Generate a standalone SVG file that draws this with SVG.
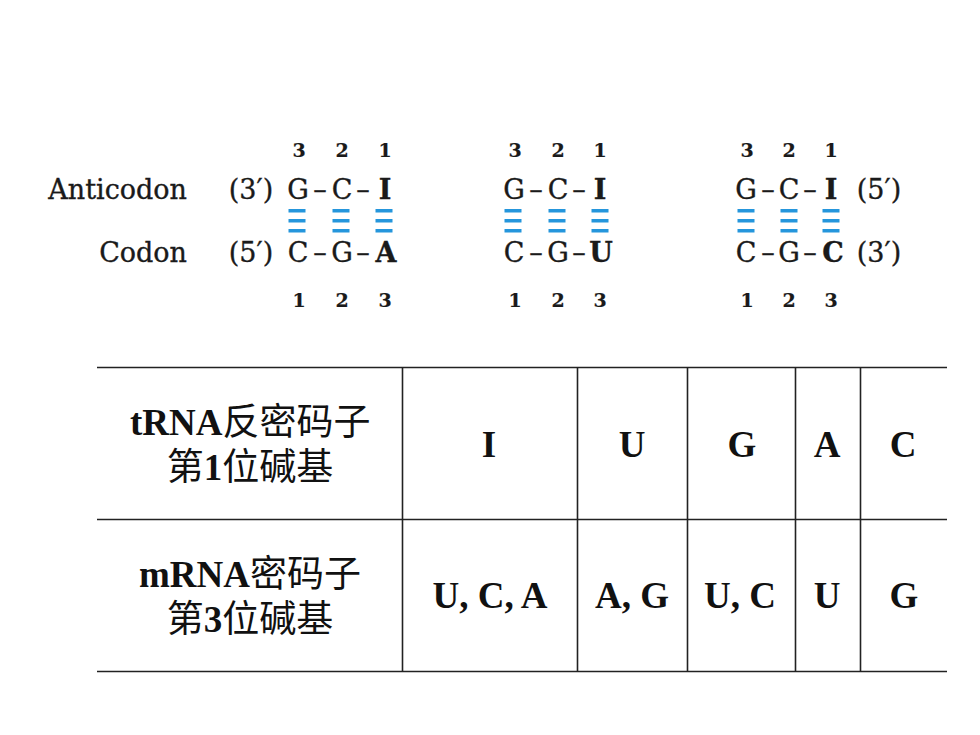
<svg xmlns="http://www.w3.org/2000/svg" width="980" height="735" viewBox="0 0 980 735">
<style>
.sch{font-family:"DejaVu Serif","Liberation Serif",serif;fill:#1a1a1a;stroke:#1a1a1a;stroke-width:0.35;text-anchor:middle}
.lbl{font-size:27px}
.base{font-size:27px}
.b{font-weight:bold}
.num{font-size:19px;font-weight:bold;stroke-width:0.2}
.bar{fill:#2596DC}
.grid{stroke:#222;stroke-width:1.6;fill:none}
.cell{font-family:"Liberation Serif","Times New Roman",serif;font-weight:bold;font-size:37px;fill:#111;text-anchor:middle}
.lat{font-family:"Liberation Serif","Times New Roman",serif;font-weight:bold;font-size:37px;fill:#111}
.cjk{font-family:"Noto Sans CJK SC",sans-serif;font-weight:normal;font-size:37px;fill:#111}
</style>
<defs>
<g id="bars">
<rect class="bar" x="-8.5" y="0" width="17" height="3.5"/>
<rect class="bar" x="-8.5" y="10" width="17" height="3.5"/>
<rect class="bar" x="-8.5" y="20" width="17" height="3.5"/>
</g>
</defs>

<g id="labels">
<text class="sch lbl" x="187" y="199" style="text-anchor:end">Anticodon</text>
<text class="sch lbl" x="187" y="262" style="text-anchor:end">Codon</text>
</g>

<g id="pair1">
<text class="sch num"><tspan x="299" y="157">3</tspan><tspan x="342" y="157">2</tspan><tspan x="385" y="157">1</tspan></text>
<text class="sch base" y="199"><tspan x="251">(3′)</tspan><tspan x="298">G</tspan><tspan x="320">–</tspan><tspan x="342">C</tspan><tspan x="363">–</tspan><tspan class="b" x="385">I</tspan></text>
<use href="#bars" x="297" y="209"/><use href="#bars" x="341" y="209"/><use href="#bars" x="384" y="209"/>
<text class="sch base" y="262"><tspan x="251">(5′)</tspan><tspan x="298">C</tspan><tspan x="320">–</tspan><tspan x="342">G</tspan><tspan x="363">–</tspan><tspan class="b" x="386">A</tspan></text>
<text class="sch num"><tspan x="299" y="307">1</tspan><tspan x="342" y="307">2</tspan><tspan x="385" y="307">3</tspan></text>
</g>

<g id="pair2">
<text class="sch num"><tspan x="515" y="157">3</tspan><tspan x="558" y="157">2</tspan><tspan x="600" y="157">1</tspan></text>
<text class="sch base" y="199"><tspan x="514">G</tspan><tspan x="536">–</tspan><tspan x="558">C</tspan><tspan x="579">–</tspan><tspan class="b" x="600">I</tspan></text>
<use href="#bars" x="513" y="209"/><use href="#bars" x="557" y="209"/><use href="#bars" x="600" y="209"/>
<text class="sch base" y="262"><tspan x="514">C</tspan><tspan x="536">–</tspan><tspan x="558">G</tspan><tspan x="579">–</tspan><tspan class="b" x="601">U</tspan></text>
<text class="sch num"><tspan x="515" y="307">1</tspan><tspan x="558" y="307">2</tspan><tspan x="600" y="307">3</tspan></text>
</g>

<g id="pair3">
<text class="sch num"><tspan x="747" y="157">3</tspan><tspan x="789" y="157">2</tspan><tspan x="831" y="157">1</tspan></text>
<text class="sch base" y="199"><tspan x="746">G</tspan><tspan x="768">–</tspan><tspan x="789">C</tspan><tspan x="810">–</tspan><tspan class="b" x="831">I</tspan><tspan x="879">(5′)</tspan></text>
<use href="#bars" x="746" y="209"/><use href="#bars" x="789" y="209"/><use href="#bars" x="831" y="209"/>
<text class="sch base" y="262"><tspan x="746">C</tspan><tspan x="768">–</tspan><tspan x="789">G</tspan><tspan x="810">–</tspan><tspan class="b" x="833">C</tspan><tspan x="879">(3′)</tspan></text>
<text class="sch num"><tspan x="747" y="307">1</tspan><tspan x="789" y="307">2</tspan><tspan x="831" y="307">3</tspan></text>
</g>

<g id="table">
<g class="grid">
<line x1="97" y1="367.5" x2="947" y2="367.5"/>
<line x1="97" y1="519.5" x2="947" y2="519.5"/>
<line x1="97" y1="671.5" x2="947" y2="671.5"/>
<line x1="402.5" y1="367" x2="402.5" y2="672"/>
<line x1="577.5" y1="367" x2="577.5" y2="672"/>
<line x1="687.5" y1="367" x2="687.5" y2="672"/>
<line x1="795.5" y1="367" x2="795.5" y2="672"/>
<line x1="860.5" y1="367" x2="860.5" y2="672"/>
</g>
<text class="lat" x="130" y="435">tRNA</text>
<text class="cjk" x="222.5" y="435">反密码子</text>
<text class="cjk" x="166.8" y="480">第</text>
<text class="lat" x="203.8" y="480">1</text>
<text class="cjk" x="222.3" y="480">位碱基</text>
<text class="lat" x="139" y="587">mRNA</text>
<text class="cjk" x="250" y="587">密码子</text>
<text class="cjk" x="166.8" y="632">第</text>
<text class="lat" x="203.8" y="632">3</text>
<text class="cjk" x="222.3" y="632">位碱基</text>
<text class="cell" x="489" y="457">I</text>
<text class="cell" x="632" y="457">U</text>
<text class="cell" x="742" y="457">G</text>
<text class="cell" x="827" y="457">A</text>
<text class="cell" x="903" y="457">C</text>
<text class="cell" x="490" y="608">U, C, A</text>
<text class="cell" x="632" y="608">A, G</text>
<text class="cell" x="740" y="608">U, C</text>
<text class="cell" x="827" y="608">U</text>
<text class="cell" x="904" y="608">G</text>
</g>
</svg>
